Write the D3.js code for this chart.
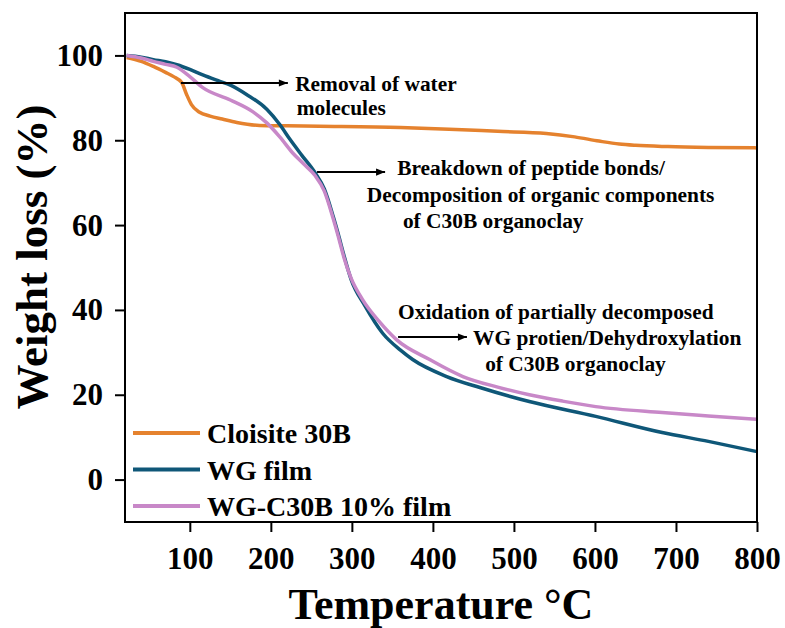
<!DOCTYPE html>
<html>
<head>
<meta charset="utf-8">
<script src="https://cdn.jsdelivr.net/npm/d3@7"></script>
<style>
  body { margin: 0; background: #fff; }
  text { font-family: "Liberation Serif", "Times New Roman", serif; font-weight: bold; }
</style>
</head>
<body>
<svg id="chart" width="785" height="628"></svg>
<script>
// TGA curves
const seriesNames = ["Cloisite 30B", "WG film", "WG-C30B 10% film"];
const seriesColors = ["#E5822E", "#0F5778", "#C888C8"];

const tempC30B = [22, 40, 55, 70, 80, 90, 96, 102, 112, 125, 140, 158, 186, 220, 260, 360, 420, 480, 540, 575, 605, 630, 650, 690, 740, 800];
const lossC30B = [99.5, 98.6, 97.4, 96.0, 95.0, 93.6, 90.8, 88.4, 86.6, 85.7, 85.0, 84.2, 83.5, 83.4, 83.3, 83.0, 82.6, 82.1, 81.6, 80.8, 79.8, 79.1, 78.8, 78.5, 78.3, 78.2];

const tempWG = [22, 40, 55, 70, 84, 100, 116, 137, 150, 170, 195, 211, 224, 238, 254, 266, 277, 283, 290, 299, 316, 338, 360, 375, 417, 458, 519, 601, 683, 740, 800];
const lossWG = [100, 99.6, 99.0, 98.5, 97.8, 96.7, 95.4, 93.9, 93.0, 90.8, 87.3, 83.7, 80.1, 76.5, 72.5, 68.5, 62.0, 58.0, 53.0, 47.2, 41.0, 34.5, 30.5, 28.3, 24.3, 21.7, 18.4, 14.9, 11.1, 9.0, 6.6];

const tempWGC = [22, 40, 55, 70, 84, 100, 116, 150, 178, 195, 211, 227, 240, 254, 266, 277, 283, 290, 299, 313, 335, 355, 396, 437, 480, 519, 560, 601, 683, 740, 800];
const lossWGC = [100, 99.4, 98.6, 97.9, 97.2, 95.0, 92.4, 89.5, 86.7, 84.1, 80.8, 77.0, 74.5, 71.8, 68.0, 61.5, 57.5, 52.5, 47.5, 42.5, 37.0, 33.0, 28.3, 24.3, 21.8, 20.0, 18.5, 17.2, 15.8, 15.0, 14.2];

const xTicks = [100, 200, 300, 400, 500, 600, 700, 800];
const yTicks = [0, 20, 40, 60, 80, 100];

// annotation arrows: [T start, T end, weight]
const arrows = [[89, 221, 93.5], [257, 341, 72.5], [357, 442, 33.6]];
// annotation text lines: [T, weight, text]
const notes = [
  [230, 91.6, "Removal of water"],
  [232, 86.0, "molecules"],
  [356, 71.8, "Breakdown of peptide bonds/"],
  [318.5, 65.4, "Decomposition of organic components"],
  [363, 59.3, "of C30B organoclay"],
  [357, 37.9, "Oxidation of partially decomposed"],
  [449.5, 31.7, "WG protien/Dehydroxylation"],
  [464.5, 25.6, "of C30B organoclay"]
];

const series = [
  {name: seriesNames[0], color: seriesColors[0], values: tempC30B.map((t, i) => ({t: t, w: lossC30B[i]}))},
  {name: seriesNames[1], color: seriesColors[1], values: tempWG.map((t, i) => ({t: t, w: lossWG[i]}))},
  {name: seriesNames[2], color: seriesColors[2], values: tempWGC.map((t, i) => ({t: t, w: lossWGC[i]}))}
];

const plotLeft = 125, plotRight = 757, plotTop = 13, plotBottom = 522;
const svg = d3.select('#chart');

const x = d3.scaleLinear().domain([20, 800]).range([plotLeft, plotRight]);
const y = d3.scaleLinear().domain([-10, 110]).range([plotBottom, plotTop]);

svg.append('defs').append('marker')
  .attr('id', 'head')
  .attr('viewBox', '0 0 10 10')
  .attr('refX', 10).attr('refY', 5)
  .attr('markerWidth', 6).attr('markerHeight', 4.5)
  .attr('markerUnits', 'strokeWidth')
  .attr('orient', 'auto')
  .append('path').attr('d', 'M0,1 L10,5 L0,9 Z').attr('fill', '#000');

// curves
const line = d3.line()
  .x(d => x(d.t))
  .y(d => y(d.w))
  .curve(d3.curveMonotoneX);

svg.append('g')
  .selectAll('path.curve')
  .data(series)
  .enter()
  .append('path')
  .classed('curve', true)
  .attr('fill', 'none')
  .attr('stroke', d => d.color)
  .attr('stroke-width', 3.5)
  .attr('d', d => line(d.values));

// axes
const xAxis = svg.append('g')
  .attr('transform', `translate(0,${plotBottom})`)
  .call(d3.axisBottom(x).tickValues(xTicks).tickSize(10).tickPadding(15).tickSizeOuter(0));
const yAxis = svg.append('g')
  .attr('transform', `translate(${plotLeft},0)`)
  .call(d3.axisLeft(y).tickValues(yTicks).tickSize(10).tickPadding(12).tickSizeOuter(0));

[xAxis, yAxis].forEach(a => {
  a.select('.domain').remove();
  a.selectAll('line').attr('stroke', '#000').attr('stroke-width', 2);
  a.selectAll('text')
    .attr('fill', '#000')
    .style('font-family', '"Liberation Serif", serif')
    .style('font-weight', 'bold')
    .style('font-size', '31px');
});

// frame
svg.append('rect')
  .attr('x', plotLeft).attr('y', plotTop)
  .attr('width', plotRight - plotLeft).attr('height', plotBottom - plotTop)
  .attr('fill', 'none').attr('stroke', '#000').attr('stroke-width', 2);

// annotations
svg.selectAll('line.arrow')
  .data(arrows)
  .enter()
  .append('line')
  .classed('arrow', true)
  .attr('x1', d => x(d[0])).attr('x2', d => x(d[1]))
  .attr('y1', d => y(d[2])).attr('y2', d => y(d[2]))
  .attr('stroke', '#000').attr('stroke-width', 2)
  .attr('marker-end', 'url(#head)');

svg.selectAll('text.note')
  .data(notes)
  .enter()
  .append('text')
  .classed('note', true)
  .attr('x', d => x(d[0]))
  .attr('y', d => y(d[1]))
  .style('font-size', '21.4px')
  .text(d => d[2]);

// legend
const legend = svg.append('g').selectAll('g')
  .data(series)
  .enter()
  .append('g')
  .attr('transform', (d, i) => `translate(0,${433 + i * 36.5})`);
legend.append('line')
  .attr('x1', 133).attr('x2', 200)
  .attr('stroke', d => d.color).attr('stroke-width', 4);
legend.append('text')
  .attr('x', 207).attr('y', 10)
  .style('font-size', '28px')
  .text(d => d.name);

// axis titles
svg.append('text')
  .attr('x', (plotLeft + plotRight) / 2).attr('y', 619)
  .attr('text-anchor', 'middle')
  .style('font-size', '44px')
  .text('Temperature °C');
svg.append('text')
  .attr('transform', 'translate(47,257) rotate(-90)')
  .attr('text-anchor', 'middle')
  .style('font-size', '45px')
  .text('Weight loss (%)');
</script>
</body>
</html>
